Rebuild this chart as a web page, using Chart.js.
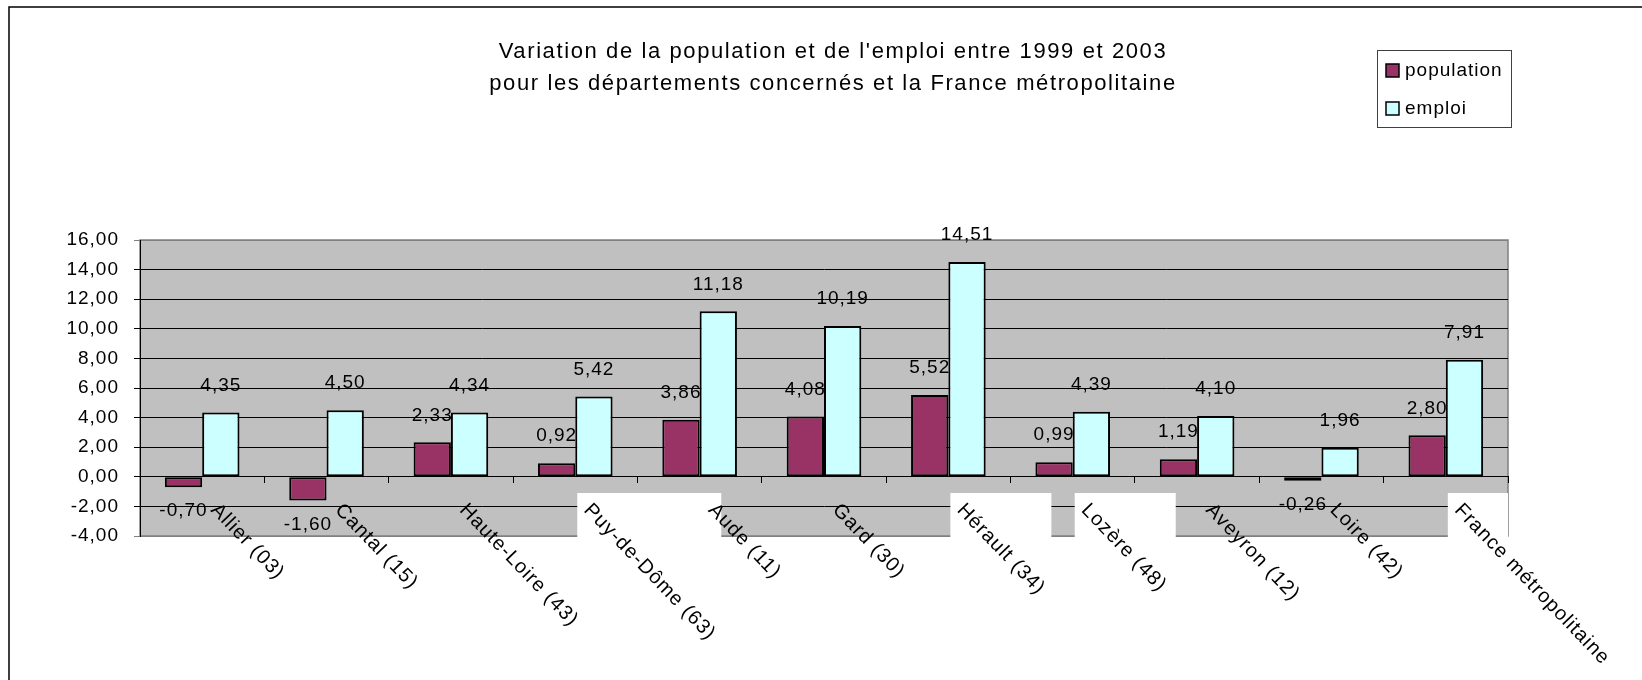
<!DOCTYPE html>
<html>
<head>
<meta charset="utf-8">
<script src="https://cdn.jsdelivr.net/npm/chart.js@4"></script>
<style>
  body { margin: 0; background: #fff; overflow: hidden; }
  canvas { display: block; }
</style>
</head>
<body>
<canvas id="chart" width="1642" height="680"></canvas>
<script>
const categories = ['Allier (03)', 'Cantal (15)', 'Haute-Loire (43)', 'Puy-de-Dôme (63)', 'Aude (11)', 'Gard (30)',
  'Hérault (34)', 'Lozère (48)', 'Aveyron (12)', 'Loire (42)', 'France métropolitaine'];
const population = [-0.70, -1.60, 2.33, 0.92, 3.86, 4.08, 5.52, 0.99, 1.19, -0.26, 2.80];
const emploi = [4.35, 4.50, 4.34, 5.42, 11.18, 10.19, 14.51, 4.39, 4.10, 1.96, 7.91];
const titleLines = ["Variation de la population et de l'emploi entre 1999 et 2003",
  'pour les départements concernés et la France métropolitaine'];
const yMin = -4, yMax = 16, yStep = 2;

const FONT = '"Liberation Sans", Arial, sans-serif';
const fmt = v => v.toFixed(2).replace('.', ',');

// white patches behind some category labels (as in the original export)
const labelPatch = { 3: 144, 6: 101, 7: 101, 10: 200 };

const decor = {
  id: 'decor',
  beforeDraw(chart) {
    const {ctx, chartArea: a} = chart;
    ctx.save();
    ctx.fillStyle = '#fff';
    ctx.fillRect(0, 0, chart.width, chart.height);
    ctx.fillStyle = '#c0c0c0';
    ctx.fillRect(a.left, a.top, a.right - a.left, a.bottom - a.top);
    ctx.strokeStyle = '#808080';
    ctx.lineWidth = 1.5;
    ctx.strokeRect(a.left, a.top, a.right - a.left, a.bottom - a.top);
    ctx.strokeStyle = '#000';
    ctx.lineWidth = 1.5;
    ctx.beginPath();
    ctx.moveTo(9, chart.height);
    ctx.lineTo(9, 7);
    ctx.lineTo(chart.width, 7);
    ctx.stroke();
    ctx.restore();
    ctx.letterSpacing = '1px';
  },
  beforeDatasetsDraw(chart) {
    const {ctx, chartArea: a} = chart;
    const x = chart.scales.x;
    ctx.save();
    ctx.fillStyle = '#fff';
    Object.keys(labelPatch).forEach(i => {
      const cx = x.getPixelForTick(+i);
      const left = cx + 2;
      const right = Math.min(a.right, left + labelPatch[i]);
      ctx.fillRect(left, 493, right - left, a.bottom - 493 + 1);
    });
    ctx.restore();
  },
  afterDatasetsDraw(chart) {
    const {ctx} = chart;
    ctx.save();
    ctx.letterSpacing = '1px';
    ctx.font = '19px ' + FONT;
    ctx.fillStyle = '#000';
    ctx.textAlign = 'center';
    ctx.textBaseline = 'middle';
    chart.data.datasets.forEach((ds, di) => {
      chart.getDatasetMeta(di).data.forEach((bar, i) => {
        const v = ds.data[i];
        const y = v >= 0 ? bar.y - 27 : bar.y + 24;
        ctx.fillText(fmt(v), bar.x, y);
      });
    });
    ctx.restore();
  },
  afterDraw(chart) {
    const {ctx} = chart;
    const x = chart.scales.x;
    ctx.save();
    ctx.fillStyle = '#000';
    ctx.font = '20px ' + FONT;
    ctx.letterSpacing = '1px';
    // category labels, rotated downwards
    categories.forEach((c, i) => {
      const cx = x.getPixelForTick(i);
      ctx.save();
      ctx.translate(cx + 19, 500);
      ctx.rotate(Math.PI / 4 + 0.02);
      ctx.textAlign = 'left';
      ctx.textBaseline = 'top';
      ctx.fillText(c, 0, 0);
      ctx.restore();
    });
    // title
    ctx.save();
    ctx.font = '22px ' + FONT;
    ctx.letterSpacing = '1.6px';
    ctx.textAlign = 'center';
    ctx.textBaseline = 'alphabetic';
    ctx.fillText(titleLines[0], 833, 58);
    ctx.fillText(titleLines[1], 833, 90);
    ctx.restore();
    // legend
    ctx.font = '19px ' + FONT;
    ctx.strokeStyle = '#404040';
    ctx.lineWidth = 1;
    ctx.strokeRect(1377.5, 50.5, 134, 77);
    ctx.textAlign = 'left';
    ctx.textBaseline = 'middle';
    chart.data.datasets.forEach((ds, i) => {
      const y = 64 + i * 38;
      ctx.fillStyle = ds.backgroundColor;
      ctx.fillRect(1386, y, 13, 13);
      ctx.strokeStyle = '#000';
      ctx.lineWidth = 1.5;
      ctx.strokeRect(1386, y, 13, 13);
      ctx.fillStyle = '#000';
      ctx.fillText(ds.label, 1405, y + 7);
    });
    ctx.restore();
  }
};

new Chart(document.getElementById('chart'), {
  type: 'bar',
  data: {
    labels: categories,
    datasets: [
      {
        label: 'population',
        data: population,
        backgroundColor: '#993366',
        borderColor: '#000',
        borderWidth: 2,
        borderSkipped: false
      },
      {
        label: 'emploi',
        data: emploi,
        backgroundColor: '#ccffff',
        borderColor: '#000',
        borderWidth: 2,
        borderSkipped: false
      }
    ]
  },
  options: {
    responsive: false,
    animation: false,
    devicePixelRatio: 1,
    categoryPercentage: 0.6,
    barPercentage: 1,
    layout: {
      padding: { top: 240, right: 134, bottom: 144, left: 0 }
    },
    scales: {
      x: {
        type: 'category',
        position: { y: 0 },
        grid: {
          offset: true,
          drawOnChartArea: false,
          drawTicks: true,
          tickLength: 6,
          color: '#000'
        },
        border: { display: true, color: '#000', width: 1 },
        ticks: { display: false }
      },
      y: {
        min: yMin,
        max: yMax,
        afterFit: scale => { scale.width = 140; },
        grid: {
          color: ctx => (ctx.tick && (ctx.tick.value === yMax || ctx.tick.value === yMin)) ? '#808080' : '#000',
          tickLength: 6,
          lineWidth: 1
        },
        border: { display: true, color: '#000', width: 1 },
        ticks: {
          stepSize: yStep,
          padding: 15,
          color: '#000',
          font: { family: FONT, size: 19 },
          callback: v => fmt(v)
        }
      }
    },
    plugins: {
      legend: { display: false },
      title: { display: false },
      tooltip: { enabled: false }
    }
  },
  plugins: [decor]
});
</script>
</body>
</html>
